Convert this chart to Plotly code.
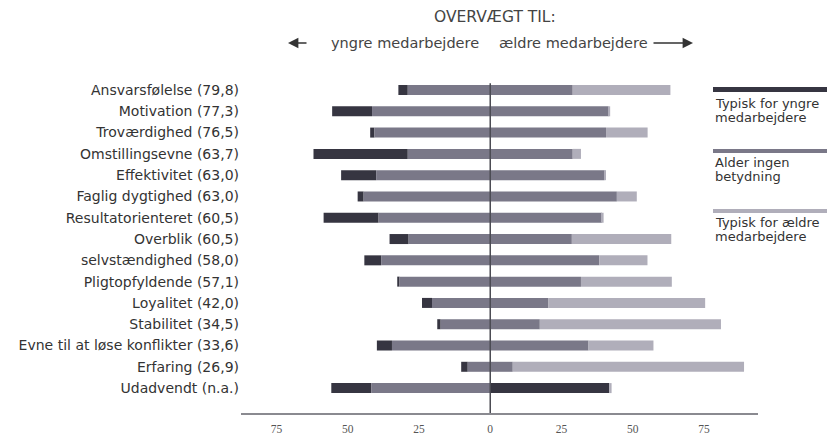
import plotly.graph_objects as go

categories = [
    "Ansvarsfølelse (79,8)", "Motivation (77,3)", "Troværdighed (76,5)",
    "Omstillingsevne (63,7)", "Effektivitet (63,0)", "Faglig dygtighed (63,0)",
    "Resultatorienteret (60,5)", "Overblik (60,5)", "selvstændighed (58,0)",
    "Pligtopfyldende (57,1)", "Loyalitet (42,0)", "Stabilitet (34,5)",
    "Evne til at løse konflikter (33,6)", "Erfaring (26,9)", "Udadvendt (n.a.)",
]
younger = [3.3, 14.0, 1.5, 33.1, 12.3, 2.1, 19.3, 6.7, 5.9, 0.8, 3.5, 1.2, 5.3, 2.3, 14.0]
neutral = [57.9, 83.0, 81.3, 57.9, 80.1, 88.9, 78.4, 57.3, 76.6, 63.7, 40.9, 34.8, 69.0, 15.8, 83.6]
older = [34.3, 0.6, 14.6, 2.9, 0.6, 7.0, 0.6, 34.9, 16.9, 31.9, 55.0, 63.6, 22.8, 81.2, 0.8]
tick_vals = [-75, -50, -25, 0, 25, 50, 75]
tick_text = ["75", "50", "25", "0", "25", "50", "75"]
legend_names = [["Typisk for yngre", "medarbejdere"], ["Alder ingen", "betydning"],
                ["Typisk for ældre", "medarbejdere"]]

DARK = "#363541"
MID = "#7a7888"
LIGHT = "#b0aeba"
FONT = "DejaVu Sans"

W, H = 831, 437
L, R, T, B = 241, 73, 80, 24
pw, ph = W - L - R, H - T - B


def px(x):
    return (x - L) / pw


def py(y):
    return (H - B - y) / ph


half = [n / 2 for n in neutral]
bw = 0.47
fig = go.Figure()
fig.add_trace(go.Bar(y=categories, x=younger, base=[-(y + h) for y, h in zip(younger, half)],
                     orientation="h", marker=dict(color=DARK, line=dict(width=0)), width=bw))
fig.add_trace(go.Bar(y=categories, x=half, base=[-h for h in half],
                     orientation="h", marker=dict(color=MID, line=dict(width=0)), width=bw))
right_cols = [DARK if c.startswith("Udadvendt") else MID for c in categories]
fig.add_trace(go.Bar(y=categories, x=half, base=[0] * len(half),
                     orientation="h", marker=dict(color=right_cols, line=dict(width=0)), width=bw))
fig.add_trace(go.Bar(y=categories, x=older, base=half,
                     orientation="h", marker=dict(color=LIGHT, line=dict(width=0)), width=bw))

n = len(categories)
fig.update_layout(
    width=W, height=H, margin=dict(l=L, r=R, t=T, b=B),
    paper_bgcolor="white", plot_bgcolor="white", showlegend=False, barmode="overlay",
    xaxis=dict(range=[-87.5, 94], showgrid=False, zeroline=False, showline=True,
               linecolor="#8a8a90", linewidth=1.5, tickvals=tick_vals, ticktext=tick_text,
               ticks="", ticklabelstandoff=4, automargin=False,
               tickfont=dict(family="Liberation Serif", size=11.5, color="#555")),
    yaxis=dict(categoryorder="array", categoryarray=categories, range=[n + 0.17, -0.47],
               showgrid=False, zeroline=False, showline=False, ticks="", automargin=False,
               ticklabelstandoff=1, tickfont=dict(family=FONT, size=14, color="#333")),
)

fig.add_shape(type="line", xref="x", yref="paper", x0=0, x1=0, y0=0, y1=0.99,
              line=dict(color="#4a4a52", width=1.5), layer="above")


def label(x, y, text, size, anchor="center", color="#444"):
    fig.add_annotation(xref="paper", yref="paper", x=px(x), y=py(y), xanchor=anchor,
                       yanchor="middle", text=text, showarrow=False,
                       font=dict(family=FONT, size=size, color=color))


# Header
label(495, 17, "OVERVÆGT TIL:", 15.5)
label(481, 43, "yngre medarbejdere", 14.5, "right")
label(497, 43, "ældre medarbejdere", 14.5, "left")
fig.add_annotation(xref="paper", yref="paper", x=px(288), y=py(43), text="", showarrow=True,
                   ax=20, ay=0, arrowhead=2, arrowsize=1.3, arrowwidth=1.6, arrowcolor="#333",
                   standoff=0)
fig.add_annotation(xref="paper", yref="paper", x=px(693), y=py(43), text="", showarrow=True,
                   ax=-41, ay=0, arrowhead=2, arrowsize=1.3, arrowwidth=1.6, arrowcolor="#333",
                   standoff=0)

# Custom legend
leg_bars = [(87, 92, DARK), (149, 153, MID), (209, 213, LIGHT)]
leg_text_y = [(103, 117), (162, 176), (222, 236)]
for (y0, y1, col), (t1, t2), names in zip(leg_bars, leg_text_y, legend_names):
    fig.add_shape(type="rect", xref="paper", yref="paper", x0=px(713), x1=px(827),
                  y0=py(y1), y1=py(y0), fillcolor=col, line=dict(width=0))
    for ty, txt in zip((t1, t2), names):
        label(713, ty, txt, 13, "left", "#333")

fig.write_html("out.html", config={"displayModeBar": False},
               post_script="document.body.style.margin='0';")
